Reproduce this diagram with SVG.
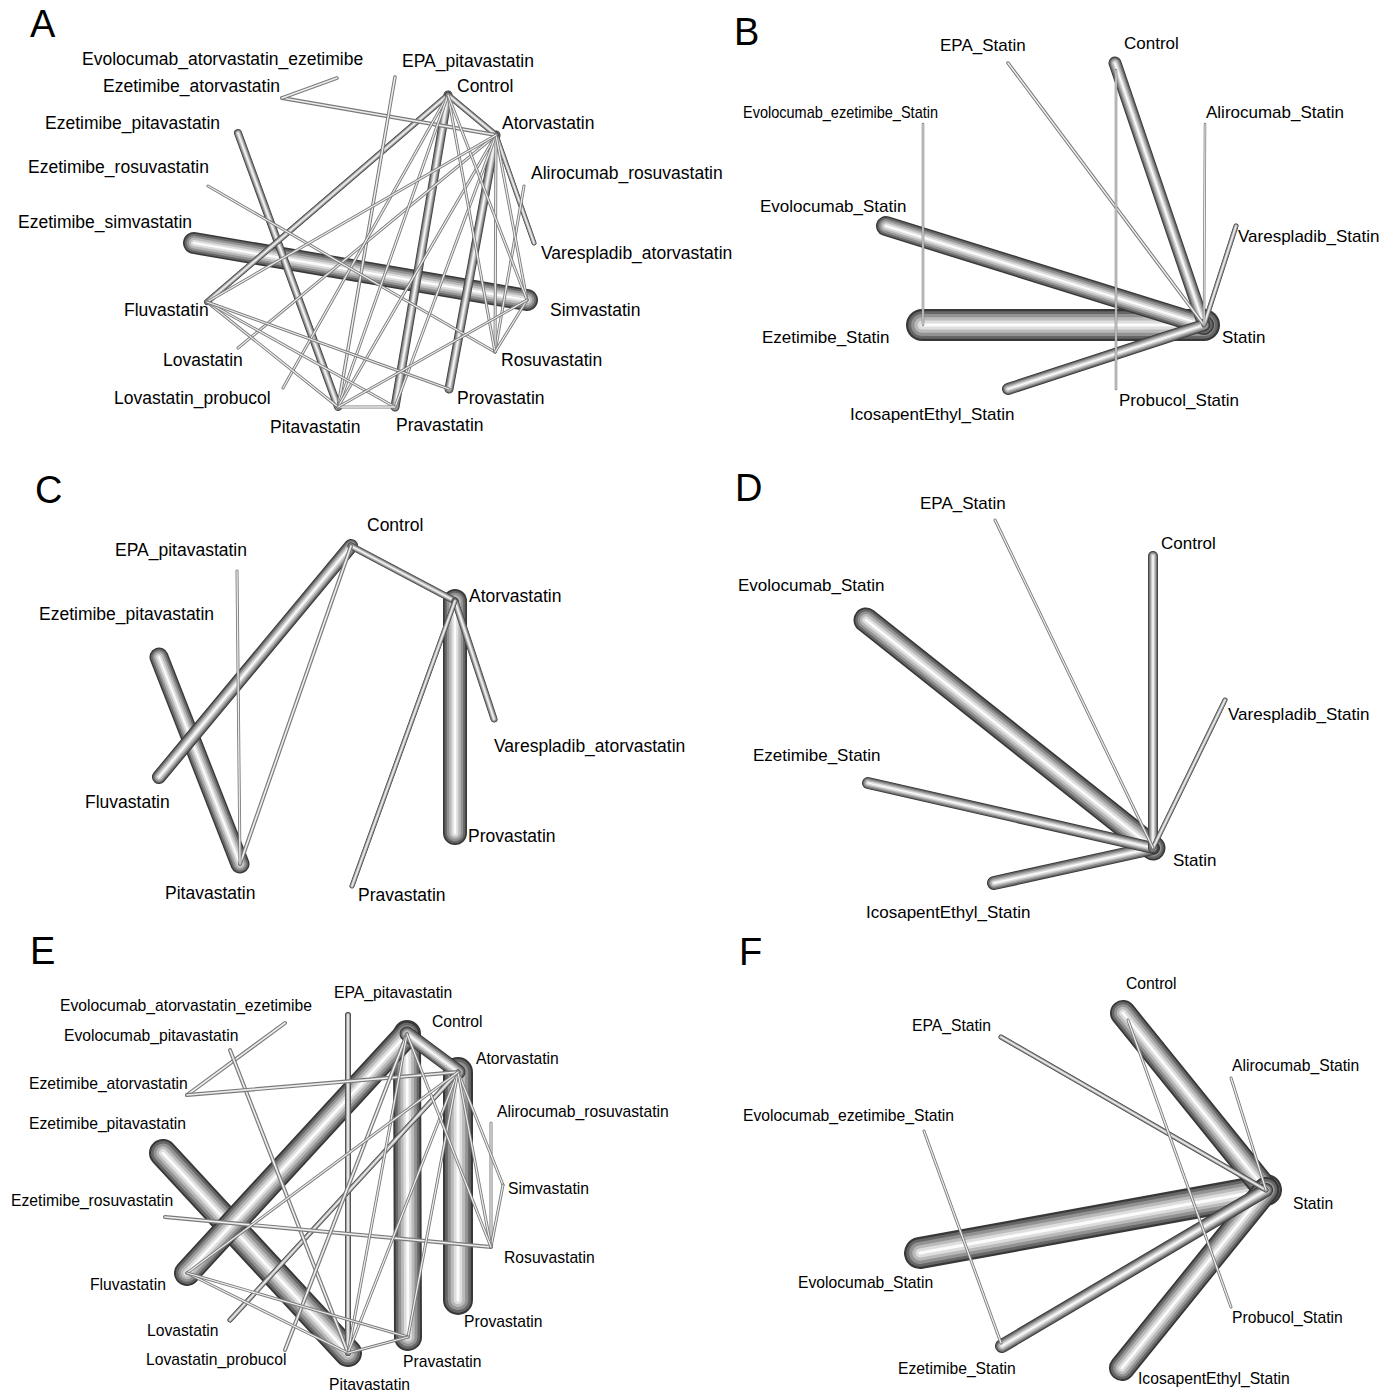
<svg xmlns="http://www.w3.org/2000/svg" width="1400" height="1392" viewBox="0 0 1400 1392">
<style>
use{fill:none;stroke-linecap:round}
.o{stroke:#383838;stroke-width:calc(var(--w) * 1px)}
.a{stroke:#666;stroke-width:calc(var(--w) * 0.86px)}
.b{stroke:#929292;stroke-width:calc(var(--w) * 0.68px)}
.c{stroke:#bababa;stroke-width:calc(var(--w) * 0.48px)}
.d{stroke:#dedede;stroke-width:calc(var(--w) * 0.28px)}
.h{stroke:#fcfcfc;stroke-width:calc(var(--w) * 0.1px)}
.to{stroke:#7a7a7a;stroke-width:calc(var(--w) * 1px)}
.th{stroke:#ededed;stroke-width:calc(var(--w) * 0.42px)}
text{font-family:"Liberation Sans",Arial,sans-serif;fill:#000}
.pl{font-size:38px}
.la{font-size:17.5px}
.lb{font-size:17px}
.le{font-size:15.7px}
</style>
<defs>
<path id="A1" d="M194 243L527 300"/>
<path id="A2" d="M496 135L449 389"/>
<path id="A3" d="M448 95L395 407"/>
<path id="A4" d="M238 133L338 407"/>
<path id="A5" d="M207 302L448 95"/>
<path id="A6" d="M448 95L496 135"/>
<path id="A7" d="M496 135L534 243"/>
<path id="A8" d="M282 98L496 135"/>
<path id="A9" d="M337 78L282 98"/>
<path id="A10" d="M395 77L338 407"/>
<path id="A11" d="M238 348L496 135"/>
<path id="A12" d="M283 388L448 95"/>
<path id="A13" d="M524 186L495 352"/>
<path id="A14" d="M208 186L495 352"/>
<path id="A15" d="M448 95L338 407"/>
<path id="A16" d="M496 135L338 407"/>
<path id="A17" d="M496 135L395 407"/>
<path id="A18" d="M496 135L495 352"/>
<path id="A19" d="M496 135L527 300"/>
<path id="A20" d="M448 95L495 352"/>
<path id="A21" d="M448 95L527 300"/>
<path id="A22" d="M207 302L496 135"/>
<path id="A23" d="M207 302L338 407"/>
<path id="A24" d="M207 302L395 407"/>
<path id="A25" d="M207 302L449 389"/>
<path id="A26" d="M338 407L395 407"/>
<path id="A27" d="M527 300L495 352"/>
<path id="A28" d="M338 407L527 300"/>

<path id="B1" d="M922 325L1204 325"/>
<path id="B2" d="M886 226L1204 325"/>
<path id="B3" d="M1115 63L1204 325"/>
<path id="B4" d="M1008 389L1204 325"/>
<path id="B5" d="M1236 226L1204 325"/>
<path id="B6" d="M1008 63L1204 325"/>
<path id="B7" d="M1205 124L1204 325"/>
<path id="B8" d="M923 124L923 325"/>
<path id="B9" d="M1116 70L1116 389"/>

<path id="C1" d="M455 601L455 833"/>
<path id="C2" d="M159 657L240 864"/>
<path id="C3" d="M159 777L351 546"/>
<path id="C4" d="M351 546L455 601"/>
<path id="C5" d="M455 601L494 719"/>
<path id="C6" d="M455 601L352 886"/>
<path id="C7" d="M351 546L240 864"/>
<path id="C8" d="M237 571L240 864"/>

<path id="D1" d="M866 620L1153 848"/>
<path id="D2" d="M994 883L1153 848"/>
<path id="D3" d="M868 783L1153 848"/>
<path id="D4" d="M1153 556L1153 848"/>
<path id="D5" d="M1225 700L1153 848"/>
<path id="D6" d="M995 520L1153 848"/>

<path id="E1" d="M458 1072L458 1300"/>
<path id="E2" d="M407 1034L408 1337"/>
<path id="E3" d="M163 1153L348 1353"/>
<path id="E4" d="M187 1273L407 1034"/>
<path id="E5" d="M407 1034L458 1072"/>
<path id="E6" d="M348 1015L348 1353"/>
<path id="E7" d="M230 1320L458 1072"/>
<path id="E8" d="M285 1023L187 1095"/>
<path id="E9" d="M230 1050L348 1353"/>
<path id="E10" d="M187 1095L458 1072"/>
<path id="E11" d="M165 1217L491 1247"/>
<path id="E12" d="M285 1350L407 1034"/>
<path id="E13" d="M491 1123L491 1247"/>
<path id="E14" d="M458 1072L503 1185"/>
<path id="E15" d="M503 1185L491 1247"/>
<path id="E16" d="M407 1034L348 1353"/>
<path id="E17" d="M458 1072L348 1353"/>
<path id="E18" d="M458 1072L408 1337"/>
<path id="E19" d="M458 1072L491 1247"/>
<path id="E20" d="M407 1034L491 1247"/>
<path id="E21" d="M187 1273L458 1072"/>
<path id="E22" d="M187 1273L348 1353"/>
<path id="E23" d="M187 1273L408 1337"/>
<path id="E24" d="M348 1353L408 1337"/>

<path id="F1" d="M920 1253L1266 1190"/>
<path id="F2" d="M1123 1013L1266 1190"/>
<path id="F3" d="M1122 1368L1266 1190"/>
<path id="F4" d="M1002 1346L1266 1190"/>
<path id="F5" d="M1001 1037L1266 1190"/>
<path id="F6" d="M1231 1078L1266 1190"/>
<path id="F7" d="M924 1131L1001 1343"/>
<path id="F8" d="M1128 1020L1231 1307"/>
</defs>

<rect width="1400" height="1392" fill="#fff"/>

<g id="connectors">
<g id="connectors-A">
<g style="--w:22"><use href="#A1" class="o"/><use href="#A1" class="a"/><use href="#A1" class="b"/><use href="#A1" class="c"/><use href="#A1" class="d"/><use href="#A1" class="h"/></g>
<g style="--w:9"><use href="#A2" class="o"/><use href="#A2" class="a"/><use href="#A2" class="b"/><use href="#A2" class="c"/><use href="#A2" class="d"/><use href="#A2" class="h"/></g>
<g style="--w:9"><use href="#A3" class="o"/><use href="#A3" class="a"/><use href="#A3" class="b"/><use href="#A3" class="c"/><use href="#A3" class="d"/><use href="#A3" class="h"/></g>
<g style="--w:8"><use href="#A4" class="o"/><use href="#A4" class="a"/><use href="#A4" class="b"/><use href="#A4" class="c"/><use href="#A4" class="d"/><use href="#A4" class="h"/></g>
<g style="--w:6"><use href="#A5" class="o"/><use href="#A5" class="a"/><use href="#A5" class="b"/><use href="#A5" class="c"/><use href="#A5" class="d"/><use href="#A5" class="h"/></g>
<g style="--w:6"><use href="#A6" class="o"/><use href="#A6" class="a"/><use href="#A6" class="b"/><use href="#A6" class="c"/><use href="#A6" class="d"/><use href="#A6" class="h"/></g>
<g style="--w:5"><use href="#A7" class="o"/><use href="#A7" class="a"/><use href="#A7" class="b"/><use href="#A7" class="c"/><use href="#A7" class="d"/><use href="#A7" class="h"/></g>
<g style="--w:4"><use href="#A8" class="to"/><use href="#A8" class="th"/></g>
<g style="--w:3.5"><use href="#A9" class="to"/><use href="#A9" class="th"/></g>
<g style="--w:3.5"><use href="#A10" class="to"/><use href="#A10" class="th"/></g>
<g style="--w:3"><use href="#A11" class="to"/><use href="#A11" class="th"/></g>
<g style="--w:3"><use href="#A12" class="to"/><use href="#A12" class="th"/></g>
<g style="--w:3"><use href="#A13" class="to"/><use href="#A13" class="th"/></g>
<g style="--w:3"><use href="#A14" class="to"/><use href="#A14" class="th"/></g>
<g style="--w:3"><use href="#A15" class="to"/><use href="#A15" class="th"/></g>
<g style="--w:3"><use href="#A16" class="to"/><use href="#A16" class="th"/></g>
<g style="--w:3"><use href="#A17" class="to"/><use href="#A17" class="th"/></g>
<g style="--w:3"><use href="#A18" class="to"/><use href="#A18" class="th"/></g>
<g style="--w:3"><use href="#A19" class="to"/><use href="#A19" class="th"/></g>
<g style="--w:3"><use href="#A20" class="to"/><use href="#A20" class="th"/></g>
<g style="--w:3"><use href="#A21" class="to"/><use href="#A21" class="th"/></g>
<g style="--w:3"><use href="#A22" class="to"/><use href="#A22" class="th"/></g>
<g style="--w:3"><use href="#A23" class="to"/><use href="#A23" class="th"/></g>
<g style="--w:3"><use href="#A24" class="to"/><use href="#A24" class="th"/></g>
<g style="--w:3"><use href="#A25" class="to"/><use href="#A25" class="th"/></g>
<g style="--w:3"><use href="#A26" class="to"/><use href="#A26" class="th"/></g>
<g style="--w:3"><use href="#A27" class="to"/><use href="#A27" class="th"/></g>
<g style="--w:3"><use href="#A28" class="to"/><use href="#A28" class="th"/></g>
</g>

<g id="connectors-B">
<g style="--w:32"><use href="#B1" class="o"/><use href="#B1" class="a"/><use href="#B1" class="b"/><use href="#B1" class="c"/><use href="#B1" class="d"/><use href="#B1" class="h"/></g>
<g style="--w:20"><use href="#B2" class="o"/><use href="#B2" class="a"/><use href="#B2" class="b"/><use href="#B2" class="c"/><use href="#B2" class="d"/><use href="#B2" class="h"/></g>
<g style="--w:13"><use href="#B3" class="o"/><use href="#B3" class="a"/><use href="#B3" class="b"/><use href="#B3" class="c"/><use href="#B3" class="d"/><use href="#B3" class="h"/></g>
<g style="--w:12"><use href="#B4" class="o"/><use href="#B4" class="a"/><use href="#B4" class="b"/><use href="#B4" class="c"/><use href="#B4" class="d"/><use href="#B4" class="h"/></g>
<g style="--w:5"><use href="#B5" class="o"/><use href="#B5" class="a"/><use href="#B5" class="b"/><use href="#B5" class="c"/><use href="#B5" class="d"/><use href="#B5" class="h"/></g>
<g style="--w:3.5"><use href="#B6" class="to"/><use href="#B6" class="th"/></g>
<g style="--w:2.5"><use href="#B7" class="to"/><use href="#B7" class="th"/></g>
<g style="--w:2.5"><use href="#B8" class="to"/><use href="#B8" class="th"/></g>
<g style="--w:2.5"><use href="#B9" class="to"/><use href="#B9" class="th"/></g>
</g>

<g id="connectors-C">
<g style="--w:24"><use href="#C1" class="o"/><use href="#C1" class="a"/><use href="#C1" class="b"/><use href="#C1" class="c"/><use href="#C1" class="d"/><use href="#C1" class="h"/></g>
<g style="--w:19"><use href="#C2" class="o"/><use href="#C2" class="a"/><use href="#C2" class="b"/><use href="#C2" class="c"/><use href="#C2" class="d"/><use href="#C2" class="h"/></g>
<g style="--w:14"><use href="#C3" class="o"/><use href="#C3" class="a"/><use href="#C3" class="b"/><use href="#C3" class="c"/><use href="#C3" class="d"/><use href="#C3" class="h"/></g>
<g style="--w:7"><use href="#C4" class="o"/><use href="#C4" class="a"/><use href="#C4" class="b"/><use href="#C4" class="c"/><use href="#C4" class="d"/><use href="#C4" class="h"/></g>
<g style="--w:7"><use href="#C5" class="o"/><use href="#C5" class="a"/><use href="#C5" class="b"/><use href="#C5" class="c"/><use href="#C5" class="d"/><use href="#C5" class="h"/></g>
<g style="--w:5"><use href="#C6" class="o"/><use href="#C6" class="a"/><use href="#C6" class="b"/><use href="#C6" class="c"/><use href="#C6" class="d"/><use href="#C6" class="h"/></g>
<g style="--w:4"><use href="#C7" class="to"/><use href="#C7" class="th"/></g>
<g style="--w:3"><use href="#C8" class="to"/><use href="#C8" class="th"/></g>
</g>

<g id="connectors-D">
<g style="--w:25"><use href="#D1" class="o"/><use href="#D1" class="a"/><use href="#D1" class="b"/><use href="#D1" class="c"/><use href="#D1" class="d"/><use href="#D1" class="h"/></g>
<g style="--w:14"><use href="#D2" class="o"/><use href="#D2" class="a"/><use href="#D2" class="b"/><use href="#D2" class="c"/><use href="#D2" class="d"/><use href="#D2" class="h"/></g>
<g style="--w:12"><use href="#D3" class="o"/><use href="#D3" class="a"/><use href="#D3" class="b"/><use href="#D3" class="c"/><use href="#D3" class="d"/><use href="#D3" class="h"/></g>
<g style="--w:10"><use href="#D4" class="o"/><use href="#D4" class="a"/><use href="#D4" class="b"/><use href="#D4" class="c"/><use href="#D4" class="d"/><use href="#D4" class="h"/></g>
<g style="--w:5"><use href="#D5" class="o"/><use href="#D5" class="a"/><use href="#D5" class="b"/><use href="#D5" class="c"/><use href="#D5" class="d"/><use href="#D5" class="h"/></g>
<g style="--w:3"><use href="#D6" class="to"/><use href="#D6" class="th"/></g>
</g>

<g id="connectors-E">
<g style="--w:30"><use href="#E1" class="o"/><use href="#E1" class="a"/><use href="#E1" class="b"/><use href="#E1" class="c"/><use href="#E1" class="d"/><use href="#E1" class="h"/></g>
<g style="--w:28"><use href="#E2" class="o"/><use href="#E2" class="a"/><use href="#E2" class="b"/><use href="#E2" class="c"/><use href="#E2" class="d"/><use href="#E2" class="h"/></g>
<g style="--w:28"><use href="#E3" class="o"/><use href="#E3" class="a"/><use href="#E3" class="b"/><use href="#E3" class="c"/><use href="#E3" class="d"/><use href="#E3" class="h"/></g>
<g style="--w:26"><use href="#E4" class="o"/><use href="#E4" class="a"/><use href="#E4" class="b"/><use href="#E4" class="c"/><use href="#E4" class="d"/><use href="#E4" class="h"/></g>
<g style="--w:15"><use href="#E5" class="o"/><use href="#E5" class="a"/><use href="#E5" class="b"/><use href="#E5" class="c"/><use href="#E5" class="d"/><use href="#E5" class="h"/></g>
<g style="--w:6"><use href="#E6" class="o"/><use href="#E6" class="a"/><use href="#E6" class="b"/><use href="#E6" class="c"/><use href="#E6" class="d"/><use href="#E6" class="h"/></g>
<g style="--w:5"><use href="#E7" class="o"/><use href="#E7" class="a"/><use href="#E7" class="b"/><use href="#E7" class="c"/><use href="#E7" class="d"/><use href="#E7" class="h"/></g>
<g style="--w:4"><use href="#E8" class="to"/><use href="#E8" class="th"/></g>
<g style="--w:4"><use href="#E9" class="to"/><use href="#E9" class="th"/></g>
<g style="--w:4"><use href="#E10" class="to"/><use href="#E10" class="th"/></g>
<g style="--w:4"><use href="#E11" class="to"/><use href="#E11" class="th"/></g>
<g style="--w:4"><use href="#E12" class="to"/><use href="#E12" class="th"/></g>
<g style="--w:3"><use href="#E13" class="to"/><use href="#E13" class="th"/></g>
<g style="--w:3"><use href="#E14" class="to"/><use href="#E14" class="th"/></g>
<g style="--w:3"><use href="#E15" class="to"/><use href="#E15" class="th"/></g>
<g style="--w:3"><use href="#E16" class="to"/><use href="#E16" class="th"/></g>
<g style="--w:3"><use href="#E17" class="to"/><use href="#E17" class="th"/></g>
<g style="--w:3"><use href="#E18" class="to"/><use href="#E18" class="th"/></g>
<g style="--w:3"><use href="#E19" class="to"/><use href="#E19" class="th"/></g>
<g style="--w:3"><use href="#E20" class="to"/><use href="#E20" class="th"/></g>
<g style="--w:3"><use href="#E21" class="to"/><use href="#E21" class="th"/></g>
<g style="--w:3"><use href="#E22" class="to"/><use href="#E22" class="th"/></g>
<g style="--w:3"><use href="#E23" class="to"/><use href="#E23" class="th"/></g>
<g style="--w:3"><use href="#E24" class="to"/><use href="#E24" class="th"/></g>
</g>

<g id="connectors-F">
<g style="--w:32"><use href="#F1" class="o"/><use href="#F1" class="a"/><use href="#F1" class="b"/><use href="#F1" class="c"/><use href="#F1" class="d"/><use href="#F1" class="h"/></g>
<g style="--w:26"><use href="#F2" class="o"/><use href="#F2" class="a"/><use href="#F2" class="b"/><use href="#F2" class="c"/><use href="#F2" class="d"/><use href="#F2" class="h"/></g>
<g style="--w:26"><use href="#F3" class="o"/><use href="#F3" class="a"/><use href="#F3" class="b"/><use href="#F3" class="c"/><use href="#F3" class="d"/><use href="#F3" class="h"/></g>
<g style="--w:14"><use href="#F4" class="o"/><use href="#F4" class="a"/><use href="#F4" class="b"/><use href="#F4" class="c"/><use href="#F4" class="d"/><use href="#F4" class="h"/></g>
<g style="--w:5"><use href="#F5" class="o"/><use href="#F5" class="a"/><use href="#F5" class="b"/><use href="#F5" class="c"/><use href="#F5" class="d"/><use href="#F5" class="h"/></g>
<g style="--w:3"><use href="#F6" class="to"/><use href="#F6" class="th"/></g>
<g style="--w:3"><use href="#F7" class="to"/><use href="#F7" class="th"/></g>
<g style="--w:3"><use href="#F8" class="to"/><use href="#F8" class="th"/></g>
</g>
</g>

<g id="panel-labels">
<text class="pl" x="30" y="37">A</text>
<text class="pl" x="734" y="45">B</text>
<text class="pl" x="35" y="503">C</text>
<text class="pl" x="735" y="501">D</text>
<text class="pl" x="30" y="964">E</text>
<text class="pl" x="739" y="965">F</text>
</g>

<g id="nodes-A">
<g id="A-EvAE"><text class="la" x="82" y="65">Evolocumab_atorvastatin_ezetimibe</text></g>
<g id="A-EzA"><text class="la" x="103" y="92">Ezetimibe_atorvastatin</text></g>
<g id="A-EzP"><text class="la" x="45" y="129">Ezetimibe_pitavastatin</text></g>
<g id="A-EzR"><text class="la" x="28" y="173">Ezetimibe_rosuvastatin</text></g>
<g id="A-EzS"><text class="la" x="18" y="228">Ezetimibe_simvastatin</text></g>
<g id="A-Flu"><text class="la" x="124" y="316">Fluvastatin</text></g>
<g id="A-Lov"><text class="la" x="163" y="366">Lovastatin</text></g>
<g id="A-LovP"><text class="la" x="114" y="404">Lovastatin_probucol</text></g>
<g id="A-Pit"><text class="la" x="270" y="433">Pitavastatin</text></g>
<g id="A-Pra"><text class="la" x="396" y="431">Pravastatin</text></g>
<g id="A-Pro"><text class="la" x="457" y="404">Provastatin</text></g>
<g id="A-Ros"><text class="la" x="501" y="366">Rosuvastatin</text></g>
<g id="A-Sim"><text class="la" x="550" y="316">Simvastatin</text></g>
<g id="A-Var"><text class="la" x="541" y="259">Varespladib_atorvastatin</text></g>
<g id="A-AliR"><text class="la" x="531" y="179">Alirocumab_rosuvastatin</text></g>
<g id="A-Ato"><text class="la" x="502" y="129">Atorvastatin</text></g>
<g id="A-Ctl"><text class="la" x="457" y="92">Control</text></g>
<g id="A-EPA"><text class="la" x="402" y="67">EPA_pitavastatin</text></g>
</g>

<g id="nodes-B">
<g id="B-EPA"><text class="lb" x="940" y="51">EPA_Statin</text></g>
<g id="B-Ctl"><text class="lb" x="1124" y="49">Control</text></g>
<g id="B-EvEze"><text class="lb" x="743" y="118" textLength="195" lengthAdjust="spacingAndGlyphs">Evolocumab_ezetimibe_Statin</text></g>
<g id="B-Ali"><text class="lb" x="1206" y="118">Alirocumab_Statin</text></g>
<g id="B-Evo"><text class="lb" x="760" y="212">Evolocumab_Statin</text></g>
<g id="B-Var"><text class="lb" x="1238" y="242">Varespladib_Statin</text></g>
<g id="B-Eze"><text class="lb" x="762" y="343">Ezetimibe_Statin</text></g>
<g id="B-Statin"><text class="lb" x="1222" y="343">Statin</text></g>
<g id="B-Ico"><text class="lb" x="850" y="420">IcosapentEthyl_Statin</text></g>
<g id="B-Pro"><text class="lb" x="1119" y="406">Probucol_Statin</text></g>
</g>

<g id="nodes-C">
<g id="C-Ctl"><text class="la" x="367" y="531">Control</text></g>
<g id="C-EPA"><text class="la" x="115" y="556">EPA_pitavastatin</text></g>
<g id="C-Ato"><text class="la" x="469" y="602">Atorvastatin</text></g>
<g id="C-EzP"><text class="la" x="39" y="620">Ezetimibe_pitavastatin</text></g>
<g id="C-Var"><text class="la" x="494" y="752">Varespladib_atorvastatin</text></g>
<g id="C-Flu"><text class="la" x="85" y="808">Fluvastatin</text></g>
<g id="C-Pro"><text class="la" x="468" y="842">Provastatin</text></g>
<g id="C-Pit"><text class="la" x="165" y="899">Pitavastatin</text></g>
<g id="C-Pra"><text class="la" x="358" y="901">Pravastatin</text></g>
</g>

<g id="nodes-D">
<g id="D-EPA"><text class="lb" x="920" y="509">EPA_Statin</text></g>
<g id="D-Ctl"><text class="lb" x="1161" y="549">Control</text></g>
<g id="D-Evo"><text class="lb" x="738" y="591">Evolocumab_Statin</text></g>
<g id="D-Var"><text class="lb" x="1228" y="720">Varespladib_Statin</text></g>
<g id="D-Eze"><text class="lb" x="753" y="761">Ezetimibe_Statin</text></g>
<g id="D-Statin"><text class="lb" x="1173" y="866">Statin</text></g>
<g id="D-Ico"><text class="lb" x="866" y="918">IcosapentEthyl_Statin</text></g>
</g>

<g id="nodes-E">
<g id="E-EPA"><text class="le" x="334" y="998">EPA_pitavastatin</text></g>
<g id="E-EvAE"><text class="le" x="60" y="1011">Evolocumab_atorvastatin_ezetimibe</text></g>
<g id="E-Ctl"><text class="le" x="432" y="1027">Control</text></g>
<g id="E-EvP"><text class="le" x="64" y="1041">Evolocumab_pitavastatin</text></g>
<g id="E-Ato"><text class="le" x="476" y="1064">Atorvastatin</text></g>
<g id="E-EzA"><text class="le" x="29" y="1089">Ezetimibe_atorvastatin</text></g>
<g id="E-AliR"><text class="le" x="497" y="1117">Alirocumab_rosuvastatin</text></g>
<g id="E-EzP"><text class="le" x="29" y="1129">Ezetimibe_pitavastatin</text></g>
<g id="E-Sim"><text class="le" x="508" y="1194">Simvastatin</text></g>
<g id="E-EzR"><text class="le" x="11" y="1206">Ezetimibe_rosuvastatin</text></g>
<g id="E-Ros"><text class="le" x="504" y="1263">Rosuvastatin</text></g>
<g id="E-Flu"><text class="le" x="90" y="1290">Fluvastatin</text></g>
<g id="E-Pro"><text class="le" x="464" y="1327">Provastatin</text></g>
<g id="E-Lov"><text class="le" x="147" y="1336">Lovastatin</text></g>
<g id="E-LovP"><text class="le" x="146" y="1365">Lovastatin_probucol</text></g>
<g id="E-Pra"><text class="le" x="403" y="1367">Pravastatin</text></g>
<g id="E-Pit"><text class="le" x="329" y="1390">Pitavastatin</text></g>
</g>

<g id="nodes-F">
<g id="F-Ctl"><text class="le" x="1126" y="989">Control</text></g>
<g id="F-EPA"><text class="le" x="912" y="1031">EPA_Statin</text></g>
<g id="F-Ali"><text class="le" x="1232" y="1071">Alirocumab_Statin</text></g>
<g id="F-EvEze"><text class="le" x="743" y="1121">Evolocumab_ezetimibe_Statin</text></g>
<g id="F-Statin"><text class="le" x="1293" y="1209">Statin</text></g>
<g id="F-Evo"><text class="le" x="798" y="1288">Evolocumab_Statin</text></g>
<g id="F-Pro"><text class="le" x="1232" y="1323">Probucol_Statin</text></g>
<g id="F-Eze"><text class="le" x="898" y="1374">Ezetimibe_Statin</text></g>
<g id="F-Ico"><text class="le" x="1138" y="1384">IcosapentEthyl_Statin</text></g>
</g>
</svg>
